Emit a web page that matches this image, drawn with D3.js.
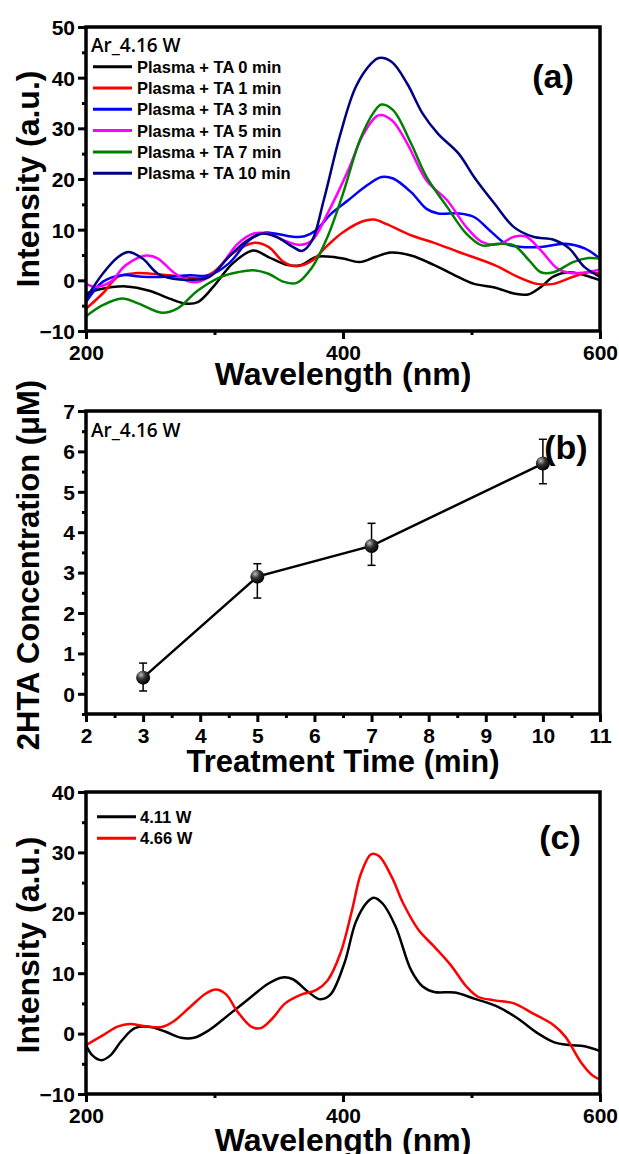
<!DOCTYPE html>
<html><head><meta charset="utf-8">
<script src="https://cdn.jsdelivr.net/npm/d3@7/dist/d3.min.js"></script>
<style>
html,body{margin:0;padding:0;background:#fff;}
svg text{font-family:"Liberation Sans",Arial,sans-serif;font-weight:bold;fill:#000;}
</style></head>
<body>
<script>
// ---------- Panel (a) data ----------
const seriesLabelsA = ["Plasma + TA 0 min","Plasma + TA 1 min","Plasma + TA 3 min","Plasma + TA 5 min","Plasma + TA 7 min","Plasma + TA 10 min"];
const colorsA = ["#000000","#ff0000","#0000ff","#ff00ff","#008000","#000080"];
const waveA0 = [200,210,231,250,265,278,287,299,314,330,342,357,367,379,388,400,413,425,437,453,471,487,502,518,533,544,554,564,576,588,600];
const intA0  = [-2.6,-1.8,-1.2,-2.1,-3.6,-4.6,-4.3,-1.3,3.3,5.9,4.6,3.0,3.0,4.6,4.7,4.3,3.6,4.6,5.5,4.9,3.0,1.0,-0.7,-1.4,-2.6,-2.8,-1.3,0.8,1.6,1.0,0];
const waveA1 = [200,213,225,238,256,271,287,299,314,331,342,354,364,376,388,400,416,424,434,453,471,490,518,536,551,564,579,591,600];
const intA1  = [-5.6,-2.6,0.7,1.4,1.2,0.8,0.5,1.6,5.3,7.4,6.6,3.6,2.8,3.9,6.9,9.5,11.7,12.0,11.1,8.9,7.4,5.6,3.0,0.7,-0.7,-0.7,0.7,1.6,1.3];
const waveA3 = [200,213,228,244,262,281,296,311,327,339,348,361,370,379,391,404,419,430,439,453,465,474,490,502,514,527,539,554,573,588,600];
const intA3  = [-4.3,-0.3,1.0,0.7,0.7,1.0,1.0,3.3,7.9,9.4,9.2,8.6,8.7,9.9,13.2,15.8,18.8,20.4,20.1,17.4,14.1,13.2,13.2,12.5,9.9,7.2,6.6,6.6,7.2,6.3,4.3];
const waveA5 = [200,208,219,231,247,256,268,281,290,302,318,330,342,354,367,376,388,404,416,428,438,450,465,481,496,508,521,533,542,554,567,579,600];
const intA5  = [-0.7,-1.3,-0.3,3.0,4.9,4.3,1.6,-0.3,-0.1,2.0,7.2,9.2,9.2,7.9,7.0,7.9,13.2,21.7,28.9,32.6,31.6,27.0,19.7,15.8,10.5,7.6,7.1,8.6,8.7,5.9,2.3,1.4,2.1];
const waveA7 = [200,213,228,241,259,271,287,305,318,330,342,354,364,376,388,400,413,424,430,439,453,465,481,496,508,521,533,545,554,564,579,591,600];
const intA7  = [-7.1,-4.9,-3.6,-4.6,-6.4,-5.6,-2.0,0.7,1.6,2.0,1.3,-0.3,-0.5,2.6,8.6,17.1,27.6,33.2,34.7,33.6,27.0,20.4,14.5,9.2,6.9,7.2,6.9,3.9,1.6,1.6,3.6,4.4,4.3];
const waveA10 = [200,213,225,233,244,256,268,281,296,311,324,336,348,361,368,376,385,398,410,422,428,438,450,462,474,490,502,518,533,548,564,576,588,600];
const intA10  = [-3.6,1.3,4.6,5.6,4.3,1.3,0.3,0.1,0.7,4.6,7.6,9.2,8.6,6.6,5.8,7.9,15.8,28.9,38.2,42.8,43.9,43.1,38.8,32.9,28.9,25.0,20.4,15.1,10.5,8.6,8.0,6.3,2.6,0.7];

// ---------- Panel (b) data ----------
const timesB = [3,5,7,10];
const concB = [0.40,2.90,3.66,5.70];
const errLowB = [0.07,2.37,3.18,5.20];
const errHighB = [0.76,3.22,4.22,6.30];

// ---------- Panel (c) data ----------
const seriesLabelsC = ["4.11 W","4.66 W"];
const colorsC = ["#000000","#ff0000"];
const waveC0 = [200,205,212,219,228,238,250,262,274,284,296,311,327,342,353,361,373,382,390,401,410,419,424,431,441,453,462,471,487,502,521,536,552,564,576,588,600];
const intC0  = [-1.9,-3.6,-4.4,-3.6,-1.1,0.9,1.1,0.3,-0.7,-0.7,0.6,3.1,5.8,8.3,9.3,9.0,6.9,5.7,6.4,11.6,18.5,21.8,22.5,21.5,17.7,10.5,7.8,6.9,6.8,5.8,4.4,2.5,0.0,-1.4,-1.9,-2.1,-2.9];
const waveC1 = [200,213,225,234,247,259,268,281,293,301,309,318,329,336,345,355,367,379,388,398,407,414,422,428,438,447,459,471,484,496,505,518,533,548,564,573,585,594,600];
const intC1  = [-1.9,-0.3,1.2,1.6,1.2,1.1,2.0,4.4,6.6,7.3,6.5,3.6,1.1,0.9,2.5,5.0,6.4,7.2,8.8,13.3,20.4,26.5,29.7,29.4,25.9,21.5,17.1,14.4,11.3,7.8,6.1,5.5,5.0,3.3,1.4,-0.5,-4.7,-6.9,-7.6];

// ---------- Tick values ----------
const xTicksSpec = [200,400,600];
const xMinorSpec = [300,500];
const yTicksA = [-10,0,10,20,30,40,50];
const yMinorA = [-5,5,15,25,35,45];
const xTicksB = [2,3,4,5,6,7,8,9,10,11];
const xMinorB = [2.5,3.5,4.5,5.5,6.5,7.5,8.5,9.5,10.5];
const yTicksB = [0,1,2,3,4,5,6,7];
const yMinorB = [-0.5,0.5,1.5,2.5,3.5,4.5,5.5,6.5];
const yTicksC = [-10,0,10,20,30,40];
const yMinorC = [-5,5,15,25,35];

const W = 619, H = 1154;
const svg = d3.select("body").append("svg").attr("width", W).attr("height", H);

const defs = svg.append("defs");
const grad = defs.append("radialGradient").attr("id","ball").attr("cx","0.35").attr("cy","0.3").attr("r","0.7");
grad.append("stop").attr("offset","0%").attr("stop-color","#bbbbbb");
grad.append("stop").attr("offset","45%").attr("stop-color","#333333");
grad.append("stop").attr("offset","100%").attr("stop-color","#000000");

function panel(cfg){
  const g = svg.append("g");
  const x = d3.scaleLinear().domain(cfg.xDomain).range([cfg.left, cfg.right]);
  const y = d3.scaleLinear().domain(cfg.yDomain).range([cfg.bottom, cfg.top]);
  const clipId = "clip" + cfg.id;
  defs.append("clipPath").attr("id", clipId).append("rect")
    .attr("x", cfg.left).attr("y", cfg.top).attr("width", cfg.right-cfg.left).attr("height", cfg.bottom-cfg.top);

  const ax1 = g.append("g").attr("transform",`translate(0,${cfg.bottom})`)
    .call(d3.axisBottom(x).tickValues(cfg.xMinor).tickSize(4).tickFormat(""));
  const ay1 = g.append("g").attr("transform",`translate(${cfg.left},0)`)
    .call(d3.axisLeft(y).tickValues(cfg.yMinor).tickSize(4).tickFormat(""));
  const ax = g.append("g").attr("transform",`translate(0,${cfg.bottom})`)
    .call(d3.axisBottom(x).tickValues(cfg.xTicks).tickSize(8).tickPadding(4).tickFormat(d3.format("d")));
  const ay = g.append("g").attr("transform",`translate(${cfg.left},0)`)
    .call(d3.axisLeft(y).tickValues(cfg.yTicks).tickSize(8).tickPadding(3).tickFormat(d3.format("d")));
  [ax1,ay1,ax,ay].forEach(a=>{
    a.select(".domain").remove();
    a.selectAll(".tick line").attr("stroke","#000").attr("stroke-width",3);
    a.selectAll(".tick text").style("font-size","21px").style("font-family",'"Liberation Sans",Arial,sans-serif').style("font-weight","bold").attr("fill","#000");
  });
  ax.selectAll(".tick text").attr("dy","0.8em");
  ay.selectAll(".tick text").attr("dy","0.35em");

  const plot = g.append("g").attr("clip-path",`url(#${clipId})`);
  g.append("rect").attr("x",cfg.left).attr("y",cfg.top).attr("width",cfg.right-cfg.left).attr("height",cfg.bottom-cfg.top)
    .attr("fill","none").attr("stroke","#000").attr("stroke-width",3.5);

  g.append("text").attr("x",(cfg.left+cfg.right)/2).attr("y",cfg.xTitleY).attr("text-anchor","middle")
    .style("font-size",cfg.titleSize+"px").text(cfg.xTitle);
  g.append("text").attr("transform",`translate(${cfg.yTitleX},${cfg.yTitleCY}) rotate(-90)`).attr("text-anchor","middle")
    .style("font-size",cfg.titleSize+"px").text(cfg.yTitle);
  g.append("text").attr("x",cfg.tagX).attr("y",cfg.tagY).attr("text-anchor","middle").attr("dominant-baseline","central")
    .style("font-size","34px").text(cfg.tag);
  return {g, x, y, plot};
}

const lineGen = (x,y) => d3.line().x(d=>x(d[0])).y(d=>y(d[1])).curve(d3.curveCatmullRom.alpha(0.5));

// ===== Panel (a) =====
{
  const p = panel({id:"a", left:86, right:600, top:27, bottom:331, xDomain:[200,600], yDomain:[-10,50],
    xTicks:xTicksSpec, xMinor:xMinorSpec, yTicks:yTicksA, yMinor:yMinorA,
    xTitle:"Wavelength (nm)", xTitleY:385, yTitle:"Intensity (a.u.)", yTitleX:39, yTitleCY:179, titleSize:32,
    tag:"(a)", tagX:553, tagY:76});
  const waves = [waveA0,waveA1,waveA3,waveA5,waveA7,waveA10];
  const ints = [intA0,intA1,intA3,intA5,intA7,intA10];
  waves.forEach((wv,i)=>{
    const pts = wv.map((w,j)=>[w, ints[i][j]]);
    p.plot.append("path").datum(pts).attr("d", lineGen(p.x,p.y)).attr("fill","none")
      .attr("stroke",colorsA[i]).attr("stroke-width",2.5).attr("stroke-linejoin","round");
  });
  p.g.append("text").attr("x",91).attr("y",52).style("font-family",'"Open Sans",sans-serif').style("font-weight","600").style("font-size","19px").text("Ar_4.16 W");
  seriesLabelsA.forEach((lab,i)=>{
    const yy = 66.7 + i*21.3;
    p.g.append("line").attr("x1",93).attr("x2",132).attr("y1",yy).attr("y2",yy).attr("stroke",colorsA[i]).attr("stroke-width",3);
    p.g.append("text").attr("x",137).attr("y",yy).attr("dy","0.36em").style("font-size","16.5px").text(lab);
  });
}

// ===== Panel (b) =====
{
  const p = panel({id:"b", left:86, right:600, top:411, bottom:714, xDomain:[2,11], yDomain:[-0.5,7],
    xTicks:xTicksB, xMinor:xMinorB, yTicks:yTicksB, yMinor:yMinorB,
    xTitle:"Treatment Time (min)", xTitleY:772, yTitle:"2HTA Concentration (\u03BCM)", yTitleX:39, yTitleCY:565, titleSize:31,
    tag:"(b)", tagX:566, tagY:447});
  const pts = timesB.map((t,i)=>({t, c:concB[i], lo:errLowB[i], hi:errHighB[i]}));
  p.plot.append("path").datum(pts).attr("d", d3.line().x(d=>p.x(d.t)).y(d=>p.y(d.c)))
    .attr("fill","none").attr("stroke","#000").attr("stroke-width",2.5);
  const eb = p.plot.append("g").selectAll("g").data(pts).join("g");
  eb.append("line").attr("x1",d=>p.x(d.t)).attr("x2",d=>p.x(d.t)).attr("y1",d=>p.y(d.lo)).attr("y2",d=>p.y(d.hi)).attr("stroke","#000").attr("stroke-width",1.5);
  eb.append("line").attr("x1",d=>p.x(d.t)-4).attr("x2",d=>p.x(d.t)+4).attr("y1",d=>p.y(d.lo)).attr("y2",d=>p.y(d.lo)).attr("stroke","#000").attr("stroke-width",1.5);
  eb.append("line").attr("x1",d=>p.x(d.t)-4).attr("x2",d=>p.x(d.t)+4).attr("y1",d=>p.y(d.hi)).attr("y2",d=>p.y(d.hi)).attr("stroke","#000").attr("stroke-width",1.5);
  p.plot.append("g").selectAll("circle").data(pts).join("circle")
    .attr("cx",d=>p.x(d.t)).attr("cy",d=>p.y(d.c)).attr("r",7).attr("fill","url(#ball)");
  p.g.append("text").attr("x",91).attr("y",437).style("font-family",'"Open Sans",sans-serif').style("font-weight","600").style("font-size","19px").text("Ar_4.16 W");
}

// ===== Panel (c) =====
{
  const p = panel({id:"c", left:86, right:600, top:792, bottom:1094, xDomain:[200,600], yDomain:[-10,40],
    xTicks:xTicksSpec, xMinor:xMinorSpec, yTicks:yTicksC, yMinor:yMinorC,
    xTitle:"Wavelength (nm)", xTitleY:1151, yTitle:"Intensity (a.u.)", yTitleX:39, yTitleCY:945, titleSize:32,
    tag:"(c)", tagX:560, tagY:837});
  const waves = [waveC0, waveC1];
  const ints = [intC0, intC1];
  waves.forEach((wv,i)=>{
    const pts = wv.map((w,j)=>[w, ints[i][j]]);
    p.plot.append("path").datum(pts).attr("d", lineGen(p.x,p.y)).attr("fill","none")
      .attr("stroke",colorsC[i]).attr("stroke-width",2.5).attr("stroke-linejoin","round");
  });
  seriesLabelsC.forEach((lab,i)=>{
    const yy = 816.7 + i*21.6;
    p.g.append("line").attr("x1",97).attr("x2",136).attr("y1",yy).attr("y2",yy).attr("stroke",colorsC[i]).attr("stroke-width",3);
    p.g.append("text").attr("x",140).attr("y",yy).attr("dy","0.36em").style("font-size","16.5px").text(lab);
  });
}
</script>
</body></html>
